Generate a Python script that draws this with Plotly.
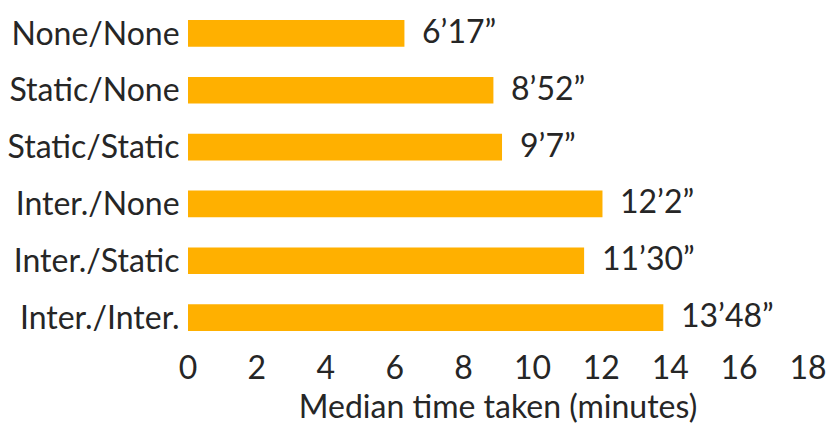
import plotly.graph_objects as go

categories = ["None/None", "Static/None", "Static/Static", "Inter./None", "Inter./Static", "Inter./Inter."]
minutes = [6, 8, 9, 12, 11, 13]
seconds = [17, 52, 7, 2, 30, 48]
x_ticks = [0, 2, 4, 6, 8, 10, 12, 14, 16, 18]
x_title = "Median time taken (minutes)"

values = [m + s / 60 for m, s in zip(minutes, seconds)]
labels = [f"{m}\u2019{s}\u201d" for m, s in zip(minutes, seconds)]

FONT = "Lato"
TXT = "#262626"
SIZE = 32

fig = go.Figure()
fig.add_trace(go.Bar(
    x=values, y=categories, orientation="h",
    marker=dict(color="#FFB000", line=dict(width=0)),
    width=0.47, hoverinfo="skip",
))

for v, c, lab in zip(values, categories, labels):
    fig.add_annotation(x=v, y=c, text=lab, showarrow=False, xanchor="left",
                       xshift=16, yshift=3, font=dict(family=FONT, size=SIZE, color=TXT))

fig.update_layout(
    width=830, height=426,
    margin=dict(l=188, r=22, t=4.5, b=80),
    paper_bgcolor="white", plot_bgcolor="white",
    showlegend=False,
    font=dict(family=FONT, size=SIZE, color=TXT),
    xaxis=dict(range=[0, 18], tickvals=x_ticks, showgrid=False, zeroline=False,
               showline=False, ticks="", automargin=False,
               title=dict(text=x_title, standoff=0,
                          font=dict(family=FONT, size=SIZE, color=TXT)),
               tickfont=dict(family=FONT, size=SIZE, color=TXT)),
    yaxis=dict(range=[5.5, -0.5], showgrid=False, zeroline=False, showline=False,
               ticks="outside", ticklen=1, tickcolor="rgba(0,0,0,0)", automargin=False,
               tickfont=dict(family=FONT, size=SIZE, color=TXT)),
)

fig.write_html("out.html", config={"displayModeBar": False},
               post_script="document.body.style.margin='0';")
